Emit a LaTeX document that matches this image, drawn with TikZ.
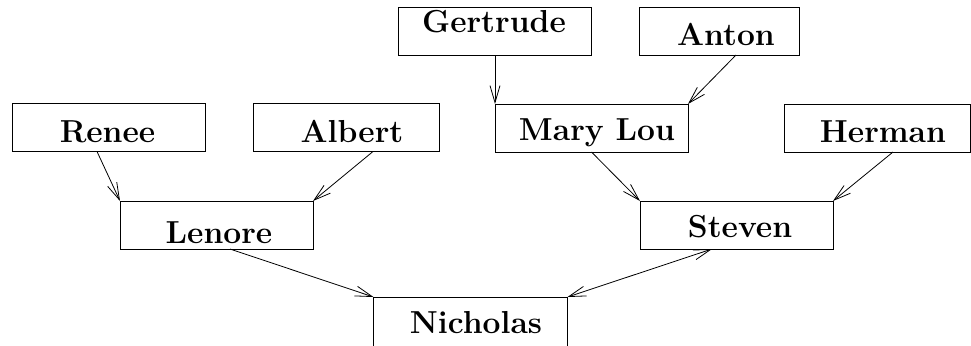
\documentclass[tikz,border=0pt]{standalone}
\usetikzlibrary{arrows.meta}
\begin{document}
\begin{tikzpicture}[x=0.5pt,y=-0.5pt,
  person/.style={draw, line width=0.4pt, inner sep=0pt, outer sep=0pt,
    minimum height=24pt},
  who/.style={anchor=base, inner sep=0pt,
    font=\fontsize{15.9}{18}\selectfont\bfseries},
  link/.style={line width=0.4pt, -{Straight Barb[length=8.5pt,width=5pt]}},
  both/.style={line width=0.4pt,
    {Straight Barb[length=8.5pt,width=5pt]}-{Straight Barb[length=8.5pt,width=5pt]}}]
\useasboundingbox (0,0) rectangle (971,345);
\clip (0,0) rectangle (971,345);

% boxes
\node[person, minimum width=96.5pt] (gertrude) at (494.5,31) {};
\node[person, minimum width=80pt]   (anton)    at (719,31) {};
\node[person, minimum width=96.5pt] (renee)    at (108.5,127.5) {};
\node[person, minimum width=93pt]   (albert)   at (346,127.5) {};
\node[person, minimum width=96.5pt] (marylou)  at (591.5,128) {};
\node[person, minimum width=93pt]   (herman)   at (877,128) {};
\node[person, minimum width=96.5pt] (lenore)   at (216.5,225) {};
\node[person, minimum width=96.5pt] (steven)   at (736.5,225) {};
\node[person, minimum width=97pt, minimum height=28pt] (nicholas) at (470.5,325) {};

% names
\node[who] (gertrude-t) at (494,32)  {Gertrude};
\node[who] (anton-t)    at (726,45)  {Anton};
\node[who] (renee-t)    at (107.5,142) {Renee};
\node[who] (albert-t)   at (352,142) {Albert};
\node[who] (marylou-t)  at (597,140) {Mary Lou};
\node[who] (herman-t)   at (883,142) {Herman};
\node[who] (lenore-t)   at (219,243) {Lenore};
\node[who] (steven-t)   at (740,237) {Steven};
\node[who] (nicholas-t) at (476,333) {Nicholas};

% descent lines
\draw[link] (gertrude.south -| marylou.north west) -- (marylou.north west);
\draw[link] ([xshift=8.5pt]anton.south) -- (marylou.north east);
\draw[link] ([xshift=-5.75pt]renee.south) -- (lenore.north west);
\draw[link] ([xshift=13.5pt]albert.south) -- (lenore.north east);
\draw[link] (marylou.south) -- (steven.north west);
\draw[link] ([xshift=8pt]herman.south) -- (steven.north east);
\draw[link] ([xshift=6.75pt]lenore.south) -- (nicholas.north west);
\draw[both] ([xshift=-12.25pt]steven.south) -- (nicholas.north east);
\end{tikzpicture}
\end{document}
